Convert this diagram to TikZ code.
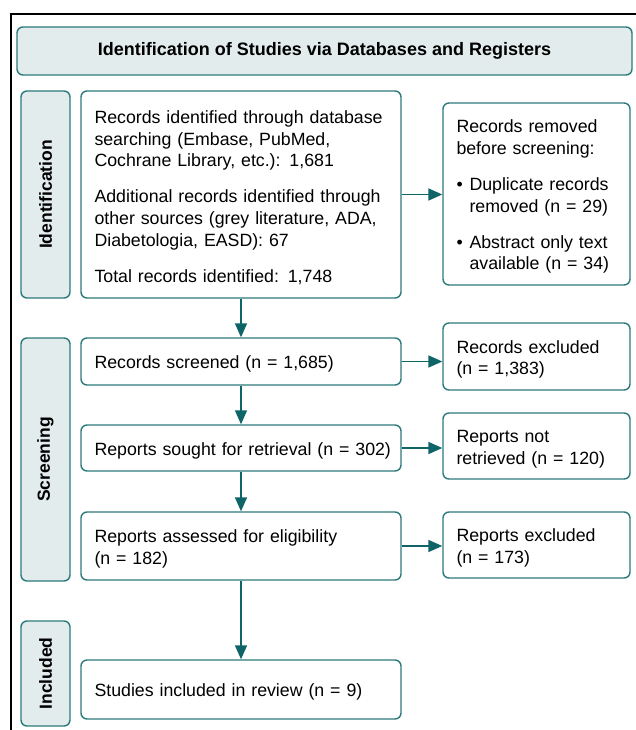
\documentclass[tikz,border=0pt]{standalone}
\usepackage{fontspec}
\setmainfont{Liberation Sans}
\usetikzlibrary{arrows.meta}

\definecolor{prismaline}{HTML}{2C7A7B}
\definecolor{prismaarrow}{HTML}{0F6468}
\definecolor{prismafill}{HTML}{E3ECEC}

\begin{document}
\begin{tikzpicture}[x=1pt, y=-1pt,
    every node/.style={font=\fontsize{17.75}{21.8}\selectfont},
    headbox/.style={draw=prismaline, fill=prismafill, line width=1.4pt, rounded corners=6pt,
        minimum width=615pt, minimum height=48pt, font=\fontsize{18}{22}\selectfont\bfseries},
    phasebox/.style={draw=prismaline, fill=prismafill, line width=1.4pt, rounded corners=6pt,
        rotate=90, minimum height=49pt, font=\fontsize{17.5}{21.5}\selectfont\bfseries},
    flowbox/.style={draw=prismaline, line width=1.4pt, rounded corners=6pt,
        minimum width=320pt, text width=293pt, inner xsep=13.5pt, align=left, text height=18.5pt},
    sidebox/.style={draw=prismaline, line width=1.4pt, rounded corners=6pt,
        minimum width=187pt, text width=160pt, inner xsep=13.5pt, align=left, text height=18.5pt},
    flowarrow/.style={draw=prismaarrow, line width=1.7pt, -{Triangle[length=14pt, width=12pt]}}
]

    % --- Page area and outer frame ---
    \useasboundingbox (0,0) rectangle (636,730);
    % Frame line (left and top edges only)
    \draw[line width=1.4pt] (11,730) -- (11,14) -- (636,14);

    % --- Title bar ---
    \node[headbox] (head) at (324.5,51) {Identification of Studies via Databases and Registers};

    % --- Phase labels on the left ---
    % Identification
    \node[phasebox, minimum width=207pt] (idphase) at (45.5,194.5) {Identification};
    % Screening
    \node[phasebox, minimum width=243pt] (scrphase) at (45.5,459.5) {Screening};
    % Included
    \node[phasebox, minimum width=105pt] (incphase) at (45.5,673.5) {Included};

    % --- Main column ---
    % Records found
    \node[flowbox, minimum height=207pt] (found) at (241,194.5) {Records identified through database\\searching (Embase, PubMed,\\Cochrane Library, etc.): 1,681\\[14pt]Additional records identified through\\other sources (grey literature, ADA,\\Diabetologia, EASD): 67\\[14pt]Total records identified: 1,748};
    % Records screened
    \node[flowbox, minimum height=47pt] (screened) at (241,361.5) {Records screened (n = 1,685)};
    % Reports sought
    \node[flowbox, minimum height=46pt] (sought) at (241,448) {\mbox{Reports sought for retrieval (n = 302)}};
    % Reports assessed
    \node[flowbox, minimum height=68pt] (assessed) at (241,546) {Reports assessed for eligibility\\(n = 182)};
    % Studies included
    \node[flowbox, minimum height=59pt] (included) at (241,689.5) {Studies included in review (n = 9)};

    % --- Right column ---
    % Removed before screening
    \node[sidebox, minimum height=182pt] (removed) at (536.5,194) {Records removed\\before screening:\\[14pt]\makebox[13pt][l]{\textbullet}Duplicate records\\\hspace*{13pt}removed (n = 29)\\[14pt]\makebox[13pt][l]{\textbullet}Abstract only text\\\hspace*{13pt}available (n = 34)};
    % Records excluded
    \node[sidebox, minimum height=67pt] (recexcl) at (536.5,356.5) {Records excluded\\(n = 1,383)};
    % Reports not retrieved
    \node[sidebox, minimum height=66pt] (notret) at (536.5,446) {Reports not\\retrieved (n = 120)};
    % Reports excluded
    \node[sidebox, minimum height=66pt] (repexcl) at (536.5,545) {Reports excluded\\(n = 173)};

    % --- Arrows down the main column ---
    \draw[flowarrow] (found.south) -- (screened.north);
    \draw[flowarrow] (screened.south) -- (sought.north);
    \draw[flowarrow] (sought.south) -- (assessed.north);
    \draw[flowarrow] (assessed.south) -- (included.north);

    % --- Arrows to the right column ---
    \draw[flowarrow] (found.east) -- (found.east -| removed.west);
    \draw[flowarrow] (screened.east) -- (screened.east -| recexcl.west);
    \draw[flowarrow] (sought.east) -- (sought.east -| notret.west);
    \draw[flowarrow] (assessed.east) -- (assessed.east -| repexcl.west);

\end{tikzpicture}
\end{document}
